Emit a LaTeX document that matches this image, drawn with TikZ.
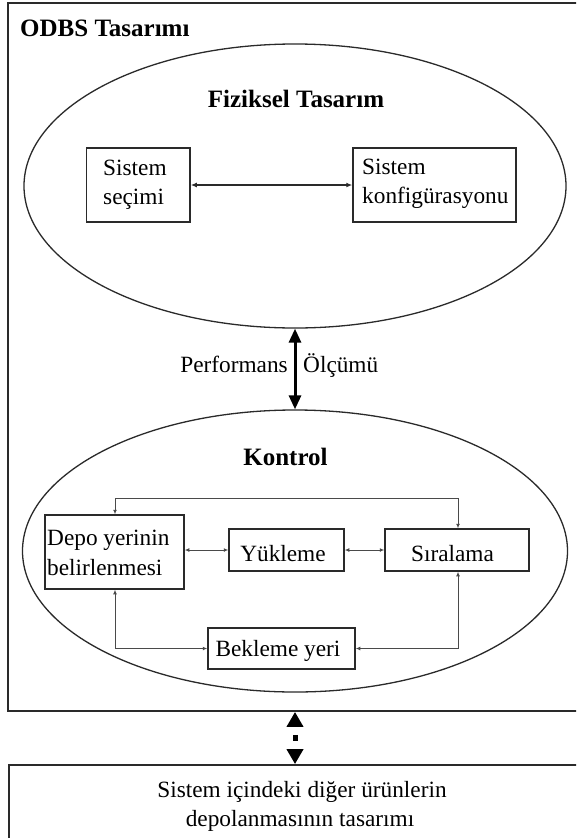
\documentclass[tikz,border=0pt]{standalone}
\usepackage{fontspec}
\setmainfont{Liberation Serif}
\usetikzlibrary{arrows.meta,shapes.geometric}

\definecolor{edge}{HTML}{2A2A2A}
\definecolor{wire}{HTML}{4A4A4A}

\tikzset{
  frame/.style={draw=edge, line width=1.8pt, inner sep=0pt},
  oval/.style={ellipse, draw=edge, line width=1.3pt, inner sep=0pt},
  box/.style={draw=edge, line width=1.5pt, inner sep=0pt},
  txt/.style={inner sep=0pt, font=\fontsize{23.3}{29}\selectfont},
  head/.style={inner sep=0pt, font=\fontsize{25}{30}\selectfont\bfseries},
  link/.style={draw=wire, line width=0.9pt, {Latex[length=4.5pt,width=4pt]}-{Latex[length=4.5pt,width=4pt]}},
  linkmain/.style={draw=edge, line width=1.3pt, {Latex[length=6pt,width=5pt]}-{Latex[length=6pt,width=5pt]}},
  bigarrow/.style={draw=black, line width=3pt, {Triangle[length=14pt,width=12pt]}-{Triangle[length=14pt,width=12pt]}},
  dotarrow/.style={draw=black, line width=5pt, dash pattern=on 6pt off 18pt, dash phase=15pt, {Triangle[length=15pt,width=16pt]}-{Triangle[length=15pt,width=16pt]}}
}

\begin{document}
\begin{tikzpicture}[x=1pt,y=-1pt]
  \clip (0,0) rectangle (576,838);
  \fill[white] (0,0) rectangle (576,838);

  % outer frame and the lower box
  \node[frame, minimum width=592pt, minimum height=708pt] (outer) at (304,357) {};
  \node[frame, minimum width=591pt, minimum height=135pt] (lower) at (304.5,832.5) {};
  \node[head, anchor=base west] (title) at (20,36) {ODBS Tasarımı};

  % physical design
  \node[oval, minimum width=542pt, minimum height=284pt] (phys) at (295,186) {};
  \node[head, anchor=base] (physlbl) at (296,107) {Fiziksel Tasarım};
  \node[box, minimum width=103.3pt, minimum height=74pt] (sel) at (138.35,185) {};
  \node[txt, anchor=base west] (sel1) at (103,175) {Sistem};
  \node[txt, anchor=base west] (sel2) at (103,204) {seçimi};
  \node[box, minimum width=163pt, minimum height=74pt] (conf) at (434.5,185) {};
  \node[txt, anchor=base west] (conf1) at (362,174) {Sistem};
  \node[txt, anchor=base west] (conf2) at (362,203) {konfigürasyonu};
  \draw[linkmain] (sel.east) -- (conf.west);

  % control
  \node[oval, minimum width=545pt, minimum height=282pt] (ctrl) at (295,551) {};
  \node[head, anchor=base] (ctrllbl) at (285.5,465) {Kontrol};
  \draw[bigarrow] (phys.south) -- (ctrl.north);
  \node[txt, anchor=base east] (perf) at (288,372) {Performans};
  \node[txt, anchor=base west] (olc) at (303,372) {Ölçümü};

  \node[box, minimum width=139pt, minimum height=74pt] (depo) at (114.5,552) {};
  \node[txt, anchor=base west] (depo1) at (47,545) {Depo yerinin};
  \node[txt, anchor=base west] (depo2) at (47,575) {belirlenmesi};
  \node[box, minimum width=115pt, minimum height=42pt] (yuk) at (286.5,550) {};
  \node[txt, anchor=base] (yuklbl) at (283,561) {Yükleme};
  \node[box, minimum width=144pt, minimum height=42pt] (sira) at (457,550) {};
  \node[txt, anchor=base] (siralbl) at (452.5,561) {Sıralama};
  \node[box, minimum width=147pt, minimum height=41pt] (bek) at (281.5,648.5) {};
  \node[txt, anchor=base] (beklbl) at (278,656) {Bekleme yeri};

  \coordinate (tl) at (115,498);
  \coordinate (tr) at (458,498);
  \coordinate (bl) at (115,648.5);
  \coordinate (br) at (458,648.5);

  \draw[link] (yuk.west -| depo.east) -- (yuk.west);
  \draw[link] (yuk.east) -- (sira.west);
  \draw[link] (tl |- depo.north) -- (tl) -- (tr) -- (tr |- sira.north);
  \draw[link] (bl |- depo.south) -- (bl) -- (bek.west);
  \draw[link] (br |- sira.south) -- (br) -- (bek.east);

  % link to the lower box
  \draw[dotarrow] (phys.south |- outer.south) -- (phys.south |- lower.north);
  \node[txt, anchor=base] (low1) at (302,797) {Sistem içindeki diğer ürünlerin};
  \node[txt, anchor=base] (low2) at (300,826) {depolanmasının tasarımı};
\end{tikzpicture}
\end{document}
